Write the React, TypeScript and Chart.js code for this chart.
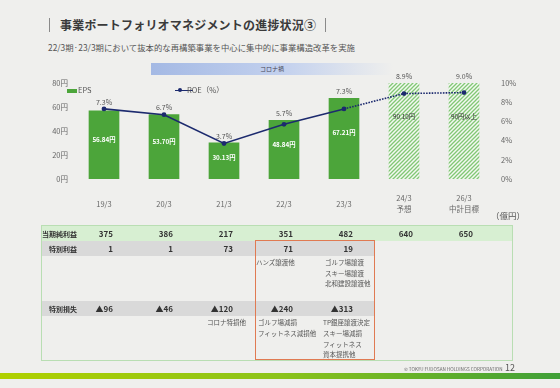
import React, { useEffect, useRef } from "react";
import { Chart, registerables } from "chart.js";

Chart.register(...registerables);

// ---- data ----
const categories: string[][] = [["19/3"], ["20/3"], ["21/3"], ["22/3"], ["23/3"], ["24/3", "予想"], ["26/3", "中計目標"]];
const epsValues = [56.84, 53.7, 30.13, 48.84, 67.21, 90.1, 90];
const epsLabels = ["56.84円", "53.70円", "30.13円", "48.84円", "67.21円", "90.10円", "90円以上"];
const roeValues = [7.3, 6.7, 3.7, 5.7, 7.3, 8.9, 9.0];
const roeLabels = ["7.3%", "6.7%", "3.7%", "5.7%", "7.3%", "8.9%", "9.0%"];
const actualCount = 5; // first 5 are actual results, rest are forecast/target
const epsTicks = [0, 20, 40, 60, 80];
const roeTicks = [0, 2, 4, 6, 8, 10];

const netIncome = ["375", "386", "217", "351", "482", "640", "650"];
const specialGain = ["1", "1", "73", "71", "19", "", ""];
const specialLoss = ["▲96", "▲46", "▲120", "▲240", "▲313", "", ""];
const gainNotes: string[][] = [[], [], [], ["ハンズ譲渡他"], ["ゴルフ場譲渡", "スキー場譲渡", "北和建設譲渡他"], [], []];
const lossNotes: string[][] = [[], [], ["コロナ特損他"], ["ゴルフ場減損", "フィットネス減損他"], ["TP銀座譲渡決定", "スキー場減損", "フィットネス", "資本提携他"], [], []];

// ---- layout/styles ----
const FONT = '"Noto Sans CJK JP", "Noto Sans", sans-serif';
const BG = "#efefed";
const GREEN = "#4ca53a";
const NAVY = "#1c2a6e";
const colRight = (i: number) => 113 + 60 * i;
const gainNoteLeft = [0, 0, 0, 256, 325, 0, 0];
const lossNoteLeft = [0, 0, 207, 258, 323, 0, 0];

function makeHatch(): CanvasPattern | string {
  const s = 4;
  const c = document.createElement("canvas");
  c.width = s;
  c.height = s;
  const g = c.getContext("2d");
  if (!g) return "#bfe3b8";
  g.fillStyle = "#f3f9f1";
  g.fillRect(0, 0, s, s);
  g.strokeStyle = "#82c775";
  g.lineWidth = 1.3;
  g.beginPath();
  g.moveTo(0, s);
  g.lineTo(s, 0);
  g.moveTo(-1, 1);
  g.lineTo(1, -1);
  g.moveTo(s - 1, s + 1);
  g.lineTo(s + 1, s - 1);
  g.stroke();
  return g.createPattern(c, "repeat") || "#bfe3b8";
}

const labelPlugin = {
  id: "labels",
  afterDatasetsDraw(chart: any) {
    const ctx = chart.ctx;
    const bars = chart.getDatasetMeta(0).data;
    const pts = chart.getDatasetMeta(1).data;
    const area = chart.chartArea;
    ctx.save();
    ctx.textAlign = "center";
    ctx.textBaseline = "middle";
    bars.forEach((bar: any, i: number) => {
      const top = bar.y;
      const base = bar.base;
      const yIn = top + (base - top) * 0.42;
      if (i < actualCount) {
        ctx.font = `bold 6.3px ${FONT}`;
        ctx.fillStyle = "#ffffff";
      } else {
        ctx.font = `6.3px ${FONT}`;
        ctx.fillStyle = "#333333";
      }
      ctx.fillText(epsLabels[i], bar.x, yIn);
      const visTop = Math.max(top, area.top);
      const p = pts[i];
      const yL = Math.min(visTop, p.y) - 7;
      ctx.font = `7px ${FONT}`;
      ctx.fillStyle = "#555555";
      ctx.fillText(roeLabels[i], bar.x, yL);
    });
    ctx.restore();
  },
};

function ChartCanvas() {
  const ref = useRef<HTMLCanvasElement>(null);
  useEffect(() => {
    if (!ref.current) return;
    const hatch = makeHatch();
    const chart = new Chart(ref.current, {
      type: "bar",
      data: {
        labels: categories,
        datasets: [
          {
            type: "bar",
            label: "EPS",
            data: epsValues,
            yAxisID: "y",
            backgroundColor: epsValues.map((_, i) => (i < actualCount ? GREEN : hatch)) as any,
            borderWidth: 0,
            barThickness: 30,
            order: 2,
          },
          {
            type: "line",
            label: "ROE（%）",
            data: roeValues,
            yAxisID: "y1",
            borderColor: NAVY,
            backgroundColor: NAVY,
            borderWidth: 1.6,
            pointRadius: 2.4,
            pointBackgroundColor: NAVY,
            pointBorderWidth: 0,
            tension: 0,
            order: 1,
            segment: {
              borderDash: (c: any) => (c.p0DataIndex >= actualCount - 1 ? [1.6, 1.2] : undefined),
            },
          } as any,
        ],
      },
      options: {
        animation: false,
        responsive: false,
        maintainAspectRatio: false,
        layout: { padding: { top: 23, left: 0, right: 0, bottom: 0 } },
        plugins: { legend: { display: false }, tooltip: { enabled: false } },
        scales: {
          x: {
            offset: true,
            grid: { display: false, drawTicks: false },
            border: { display: false },
            ticks: {
              font: { family: FONT, size: 7.5, lineHeight: 1.5 },
              color: "#666666",
              padding: 19.4,
              crossAlign: "center",
              maxRotation: 0,
              autoSkip: false,
            },
            afterFit: (s: any) => {
              s.height = 41;
            },
          },
          y: {
            position: "left",
            min: 0,
            max: 80,
            afterBuildTicks: (s: any) => {
              s.ticks = epsTicks.map((v) => ({ value: v }));
            },
            grid: { display: false, drawTicks: false },
            border: { display: false },
            ticks: {
              font: { family: FONT, size: 7.5 },
              color: "#666666",
              padding: 6,
              callback: (v: any) => `${v}円`,
            },
            afterFit: (s: any) => {
              s.width = 74;
            },
          },
          y1: {
            position: "right",
            min: 0,
            max: 10,
            afterBuildTicks: (s: any) => {
              s.ticks = roeTicks.map((v) => ({ value: v }));
            },
            grid: { display: false, drawTicks: false },
            border: { display: false },
            ticks: {
              font: { family: FONT, size: 7.5 },
              color: "#666666",
              padding: 7,
              callback: (v: any) => `${v}%`,
            },
            afterFit: (s: any) => {
              s.width = 66;
            },
          },
        },
      } as any,
      plugins: [labelPlugin],
    });
    return () => chart.destroy();
  }, []);
  return <canvas ref={ref} width={560} height={160} style={{ position: "absolute", left: 0, top: 60, width: 560, height: 160 }} />;
}

const abs = (o: React.CSSProperties): React.CSSProperties => ({ position: "absolute", ...o });

export default function App() {
  const rowCenters = { net: 233.5, gain: 248.5, loss: 308.5 };
  return (
    <div style={{ position: "fixed", left: 0, top: 0, width: 560, height: 388, background: BG, fontFamily: FONT, overflow: "hidden" }}>
      {/* Title */}
      <div style={abs({ left: 49, top: 18, width: 1, height: 14, background: "#8a8a8a" })} />
      <div style={abs({ left: 60, top: 16, fontSize: 12, lineHeight: "18px", fontWeight: 700, color: "#3a3a3a", letterSpacing: 0.2, whiteSpace: "nowrap" })}>
        事業ポートフォリオマネジメントの進捗状況③
      </div>
      <div style={abs({ left: 325, top: 18, width: 1, height: 14, background: "#8a8a8a" })} />
      <div style={abs({ left: 48, top: 41, fontSize: 8.4, lineHeight: "12px", color: "#555", whiteSpace: "nowrap" })}>
        22/3期·23/3期において抜本的な再構築事業を中心に集中的に事業構造改革を実施
      </div>

      {/* Corona band */}
      <div
        style={abs({
          left: 151,
          top: 63,
          width: 242,
          height: 12,
          background: "linear-gradient(to right, #a4b9e4 0%, #c3d1ee 55%, rgba(239,239,237,0) 100%)",
          fontSize: 6,
          lineHeight: "12px",
          textAlign: "center",
          color: "#445",
        })}
      >
        コロナ禍
      </div>

      <ChartCanvas />

      {/* Legend */}
      <div style={abs({ left: 67, top: 88.5, width: 10, height: 4, background: GREEN })} />
      <div style={abs({ left: 78, top: 85, fontSize: 7.5, lineHeight: "10px", color: "#555" })}>EPS</div>
      <div style={abs({ left: 175, top: 89.5, width: 18, height: 1.5, background: NAVY })} />
      <div style={abs({ left: 178, top: 88, width: 4, height: 4, borderRadius: 2, background: NAVY })} />
      <div style={abs({ left: 187, top: 85, fontSize: 7.5, lineHeight: "10px", color: "#555", whiteSpace: "nowrap" })}>ROE（%）</div>

      <div style={abs({ left: 491, top: 209, fontSize: 8.5, lineHeight: "12px", color: "#555", whiteSpace: "nowrap" })}>（億円）</div>

      {/* Table */}
      <div style={abs({ left: 41, top: 225, width: 470, height: 134, border: "1px solid #b9deb3" })} />
      <div style={abs({ left: 42, top: 226, width: 470, height: 15, background: "#d7efd2" })} />
      <div style={abs({ left: 42, top: 241, width: 333, height: 15, background: "#d9d9d9" })} />
      <div style={abs({ left: 42, top: 301, width: 333, height: 15, background: "#d9d9d9" })} />

      <div style={abs({ left: 42, top: rowCenters.net - 6, fontSize: 7, lineHeight: "12px", fontWeight: 700, color: "#333" })}>当期純利益</div>
      <div style={abs({ left: 49, top: rowCenters.gain - 6, fontSize: 7, lineHeight: "12px", fontWeight: 700, color: "#333" })}>特別利益</div>
      <div style={abs({ left: 49, top: rowCenters.loss - 6, fontSize: 7, lineHeight: "12px", fontWeight: 700, color: "#333" })}>特別損失</div>

      {netIncome.map((v, i) => (
        <div key={"n" + i} style={abs({ left: colRight(i) - 40, width: 40, textAlign: "right", top: rowCenters.net - 6, fontSize: 8, lineHeight: "12px", fontWeight: 700, color: "#333" })}>{v}</div>
      ))}
      {specialGain.map((v, i) => (
        <div key={"g" + i} style={abs({ left: colRight(i) - 40, width: 40, textAlign: "right", top: rowCenters.gain - 6, fontSize: 8, lineHeight: "12px", fontWeight: 700, color: "#333" })}>{v}</div>
      ))}
      {specialLoss.map((v, i) => (
        <div key={"l" + i} style={abs({ left: colRight(i) - 40, width: 40, textAlign: "right", top: rowCenters.loss - 6, fontSize: 8, lineHeight: "12px", fontWeight: 700, color: "#333" })}>{v}</div>
      ))}
      {gainNotes.map((lines, i) =>
        lines.map((t, j) => (
          <div key={"gn" + i + "_" + j} style={abs({ left: gainNoteLeft[i], top: 257 + j * 10.6, fontSize: 6.5, lineHeight: "10px", color: "#555", whiteSpace: "nowrap" })}>{t}</div>
        ))
      )}
      {lossNotes.map((lines, i) =>
        lines.map((t, j) => (
          <div key={"ln" + i + "_" + j} style={abs({ left: lossNoteLeft[i], top: 317 + j * 10.8, fontSize: 6.5, lineHeight: "10px", color: "#555", whiteSpace: "nowrap" })}>{t}</div>
        ))
      )}
      <div style={abs({ left: 255, top: 240, width: 118, height: 118, border: "1.5px solid #e07a52" })} />

      {/* Footer */}
      <div style={abs({ left: 404, top: 366, fontSize: 4.6, lineHeight: "6px", color: "#666", whiteSpace: "nowrap" })}>© TOKYU FUDOSAN HOLDINGS CORPORATION</div>
      <div style={abs({ left: 505, top: 362, fontSize: 9, lineHeight: "12px", color: "#555" })}>12</div>
      <div style={abs({ left: 0, top: 373, width: 560, height: 6, background: "linear-gradient(to right, #b0d000 0%, #8cc31a 50%, #3f9f38 100%)" })} />
    </div>
  );
}
